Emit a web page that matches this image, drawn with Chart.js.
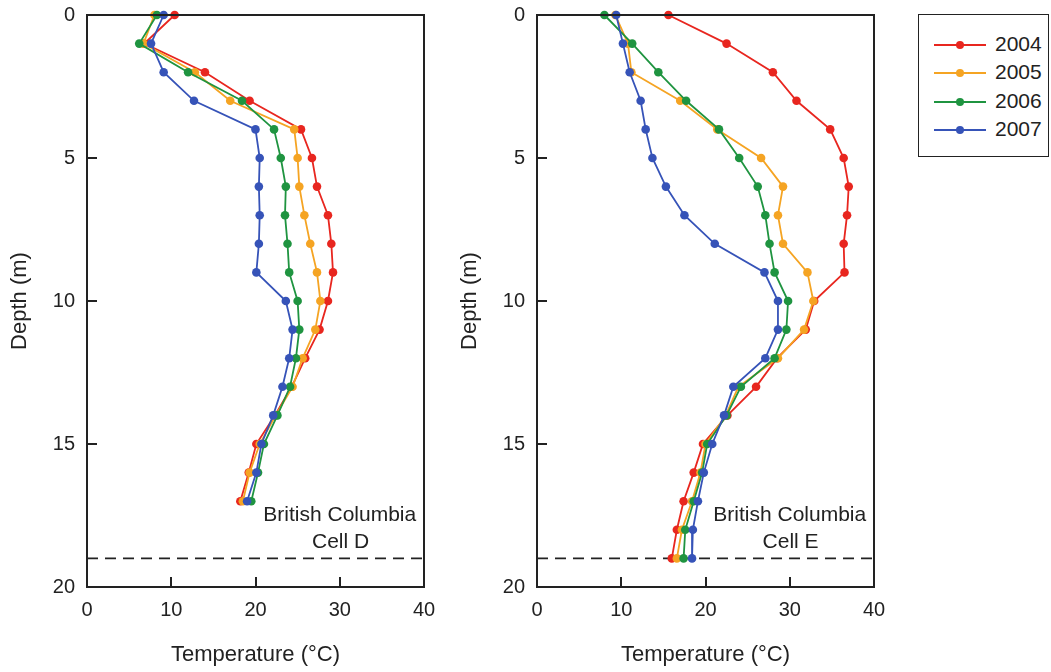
<!DOCTYPE html>
<html>
<head>
<meta charset="utf-8">
<script src="https://cdn.jsdelivr.net/npm/chart.js@4.4.1/dist/chart.umd.min.js"></script>
<style>
  html, body { margin: 0; padding: 0; background: #fff; }
  #wrap { position: relative; width: 1051px; height: 672px; overflow: hidden; }
  .panel { position: absolute; top: 0; width: 450px; height: 672px; }
  #legend {
    position: absolute; left: 918px; top: 14px; width: 131px; height: 143px;
    border: 1.5px solid #222; box-sizing: border-box;
    font-family: "Liberation Sans", Arial, sans-serif; font-size: 21px; color: #222;
  }
  .row { position: absolute; left: 0; height: 20px; }
  .row .ln { position: absolute; left: 15px; top: 9px; width: 52px; height: 2px; }
  .row .dot { position: absolute; left: 37px; top: 6px; width: 8px; height: 8px; border-radius: 50%; }
  .row .tx { position: absolute; left: 76px; top: -3px; }
</style>
</head>
<body>
<div id="wrap">
  <div class="panel" style="left:0"><canvas id="cellD"></canvas></div>
  <div class="panel" style="left:450px"><canvas id="cellE"></canvas></div>
  <div id="legend"></div>
</div>
<script>
// ---------------------- Data ----------------------
const YEARS = ['2004', '2005', '2006', '2007'];
const COLORS = ['#e8261f', '#f5a423', '#1f9440', '#3653b8'];

const DEPTH_D = [0, 1, 2, 3, 4, 5, 6, 7, 8, 9, 10, 11, 12, 13, 14, 15, 16, 17];
const D_2004 = [10.4, 6.8, 14.0, 19.3, 25.4, 26.7, 27.3, 28.6, 29.0, 29.2, 28.6, 27.6, 25.9, 24.3, 22.3, 20.1, 19.2, 18.2];
const D_2005 = [8.0, 6.7, 12.8, 17.0, 24.6, 25.0, 25.2, 25.8, 26.5, 27.3, 27.7, 27.1, 25.6, 24.4, 22.4, 20.5, 19.3, 18.5];
const D_2006 = [8.3, 6.2, 12.0, 18.4, 22.2, 23.0, 23.6, 23.5, 23.8, 24.0, 25.0, 25.2, 24.8, 24.1, 22.6, 21.0, 20.3, 19.5];
const D_2007 = [9.1, 7.6, 9.1, 12.7, 20.0, 20.5, 20.4, 20.5, 20.4, 20.1, 23.6, 24.4, 24.0, 23.2, 22.1, 20.7, 20.1, 19.0];

const DEPTH_E = [0, 1, 2, 3, 4, 5, 6, 7, 8, 9, 10, 11, 12, 13, 14, 15, 16, 17, 18, 19];
const E_2004 = [15.6, 22.5, 28.0, 30.8, 34.8, 36.4, 37.0, 36.8, 36.4, 36.5, 32.9, 31.9, 28.5, 26.0, 22.6, 19.7, 18.6, 17.4, 16.6, 16.0];
const E_2005 = [9.3, 10.8, 11.2, 17.0, 21.4, 26.6, 29.2, 28.6, 29.2, 32.1, 32.8, 31.7, 28.6, 23.9, 22.4, 20.0, 19.4, 18.4, 17.2, 16.6];
const E_2006 = [8.0, 11.3, 14.4, 17.7, 21.6, 24.0, 26.2, 27.1, 27.6, 28.2, 29.8, 29.6, 28.2, 24.2, 22.5, 20.2, 19.6, 18.6, 17.6, 17.4];
const E_2007 = [9.4, 10.2, 11.0, 12.3, 12.9, 13.7, 15.3, 17.5, 21.1, 27.0, 28.6, 28.6, 27.1, 23.3, 22.2, 20.8, 19.8, 19.1, 18.5, 18.4];

const BASE_DEPTH = 19;          // dashed line
const X_TICKS = [0, 10, 20, 30, 40];
const Y_TICKS = [0, 5, 10, 15, 20];

const FONT = '"Liberation Sans", Arial, sans-serif';
const INK = '#222';

// ---------------------- Helpers ----------------------
const pts = (temps, depths) => temps.map((t, i) => ({ x: t, y: depths[i] }));

// frame, inward ticks and the site label
const framePlugin = {
  id: 'frame',
  afterDatasetsDraw(chart, _a, opts) {
    const { ctx, chartArea: a, scales: { x, y } } = chart;
    ctx.save();
    ctx.strokeStyle = INK;
    ctx.lineWidth = 2;
    ctx.strokeRect(a.left, a.top, a.right - a.left, a.bottom - a.top);
    ctx.beginPath();
    X_TICKS.slice(1, -1).forEach(v => {
      const px = Math.round(x.getPixelForValue(v));
      ctx.moveTo(px, a.bottom); ctx.lineTo(px, a.bottom - 10);
    });
    Y_TICKS.slice(1, -1).forEach(v => {
      const py = Math.round(y.getPixelForValue(v));
      ctx.moveTo(a.left, py); ctx.lineTo(a.left + 10, py);
    });
    ctx.stroke();
    ctx.fillStyle = INK;
    ctx.font = '21px ' + FONT;
    ctx.textAlign = 'center';
    ctx.textBaseline = 'middle';
    ctx.fillText('British Columbia', x.getPixelForValue(30), y.getPixelForValue(17.5));
    ctx.fillText(opts.cell, x.getPixelForValue(30.1), y.getPixelForValue(18.45));
    ctx.restore();
  },
};

function makePanel(canvasId, depths, series, cell) {
  const datasets = series.map((s, i) => ({
    label: YEARS[i],
    data: pts(s, depths),
    showLine: true,
    borderColor: COLORS[i],
    backgroundColor: COLORS[i],
    borderWidth: 1.8,
    pointRadius: 4.3,
    pointBorderWidth: 0,
    pointHoverRadius: 4.3,
    order: 4 - i,
    clip: false,
  }));
  datasets.push({
    label: 'base',
    data: [{ x: 0, y: BASE_DEPTH }, { x: 40, y: BASE_DEPTH }],
    showLine: true,
    borderColor: INK,
    borderWidth: 1.6,
    borderDash: [11, 7],
    pointRadius: 0,
    order: 10,
  });

  return new Chart(document.getElementById(canvasId), {
    type: 'scatter',
    data: { datasets },
    options: {
      responsive: true,
      maintainAspectRatio: false,
      animation: false,
      events: [],
      layout: { padding: { top: 15, right: 26, left: 0, bottom: 0 } },
      plugins: {
        legend: { display: false },
        tooltip: { enabled: false },
        frame: { cell },
      },
      scales: {
        x: {
          type: 'linear', min: 0, max: 40,
          afterBuildTicks: (s) => { s.ticks = X_TICKS.map(v => ({ value: v })); },
          afterFit: (s) => { s.height = 85; s.paddingLeft = 0; s.paddingRight = 0; },
          grid: { display: false, drawTicks: false },
          border: { display: false },
          ticks: { padding: 11, color: INK, font: { family: FONT, size: 20 } },
          title: {
            display: true, text: 'Temperature (°C)', color: INK,
            font: { family: FONT, size: 22 }, padding: { top: 0, bottom: 4 },
          },
        },
        y: {
          type: 'linear', min: 0, max: 20, reverse: true,
          afterBuildTicks: (s) => { s.ticks = Y_TICKS.map(v => ({ value: v })); },
          afterFit: (s) => { s.width = 87; s.paddingTop = 0; s.paddingBottom = 0; },
          grid: { display: false, drawTicks: false },
          border: { display: false },
          ticks: { padding: 12, color: INK, font: { family: FONT, size: 20 } },
          title: {
            display: true, text: 'Depth (m)', color: INK,
            font: { family: FONT, size: 22 }, padding: { top: 7, bottom: 0 },
          },
        },
      },
    },
    plugins: [framePlugin],
  });
}

makePanel('cellD', DEPTH_D, [D_2004, D_2005, D_2006, D_2007], 'Cell D');
makePanel('cellE', DEPTH_E, [E_2004, E_2005, E_2006, E_2007], 'Cell E');

// ---------------------- Legend ----------------------
const legend = document.getElementById('legend');
YEARS.forEach((yr, i) => {
  const row = document.createElement('div');
  row.className = 'row';
  row.style.top = (20 + i * 28.4) + 'px';
  row.innerHTML = `<div class="ln" style="background:${COLORS[i]}"></div>` +
    `<div class="dot" style="background:${COLORS[i]}"></div>` +
    `<div class="tx">${yr}</div>`;
  legend.appendChild(row);
});
</script>
</body>
</html>
